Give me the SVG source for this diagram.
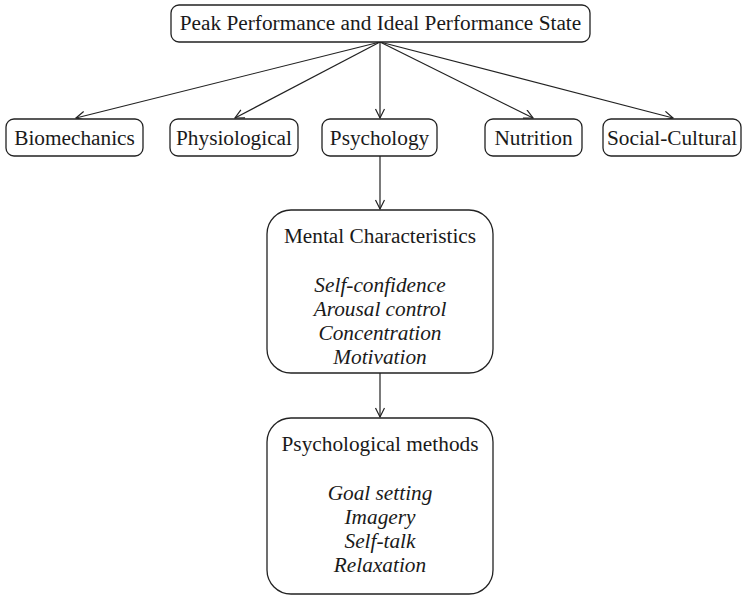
<svg xmlns="http://www.w3.org/2000/svg" width="747" height="596" viewBox="0 0 747 596">
<style>
.box{fill:#fff;stroke:#222;stroke-width:1.3}
.t{font-family:'Liberation Serif','Times New Roman',serif;font-size:21.3px;fill:#1a1a1a;text-anchor:middle}
.i{font-style:italic}
.c{stroke:#222;stroke-width:1.2;fill:none}
</style>
<defs>
<marker id="a" markerWidth="12" markerHeight="12" refX="10" refY="5" orient="auto" markerUnits="userSpaceOnUse">
<polyline points="1,0.5 10,5 1,9.5" fill="none" stroke="#222" stroke-width="1.2"/>
</marker>
</defs>
<rect width="747" height="596" fill="#fff"/>
<g id="connectors">
<line class="c" x1="380" y1="42" x2="76" y2="118" marker-end="url(#a)"/>
<line class="c" x1="380" y1="42" x2="235" y2="118" marker-end="url(#a)"/>
<line class="c" x1="380" y1="42" x2="380" y2="118" marker-end="url(#a)"/>
<line class="c" x1="380" y1="42" x2="533" y2="118" marker-end="url(#a)"/>
<line class="c" x1="380" y1="42" x2="673" y2="118" marker-end="url(#a)"/>
<line class="c" x1="380" y1="156" x2="380" y2="209" marker-end="url(#a)"/>
<line class="c" x1="380" y1="373" x2="380" y2="417" marker-end="url(#a)"/>
</g>
<g id="peak">
<rect class="box" x="171" y="5" width="419" height="37" rx="8"/>
<text class="t" x="380.500" y="30">Peak Performance and Ideal Performance State</text>
</g>
<g id="biomechanics">
<rect class="box" x="6" y="119" width="137" height="37" rx="8"/>
<text class="t" x="74.500" y="145">Biomechanics</text>
</g>
<g id="physiological">
<rect class="box" x="170" y="119" width="128" height="37" rx="8"/>
<text class="t" x="234" y="145">Physiological</text>
</g>
<g id="psychology">
<rect class="box" x="322" y="119" width="115" height="37" rx="8"/>
<text class="t" x="379.500" y="145">Psychology</text>
</g>
<g id="nutrition">
<rect class="box" x="485" y="119" width="97" height="37" rx="8"/>
<text class="t" x="533.500" y="145">Nutrition</text>
</g>
<g id="social">
<rect class="box" x="603" y="119" width="138" height="37" rx="8"/>
<text class="t" x="672" y="145">Social-Cultural</text>
</g>
<g id="mental">
<rect class="box" x="267" y="210" width="226" height="163" rx="24"/>
<text class="t" x="380" y="243">Mental Characteristics</text>
<text class="t i" x="380" y="292">Self-confidence</text>
<text class="t i" x="380" y="316">Arousal control</text>
<text class="t i" x="380" y="340">Concentration</text>
<text class="t i" x="380" y="364">Motivation</text>
</g>
<g id="methods">
<rect class="box" x="267" y="418" width="226" height="176" rx="24"/>
<text class="t" x="380" y="451">Psychological methods</text>
<text class="t i" x="380" y="500">Goal setting</text>
<text class="t i" x="380" y="524">Imagery</text>
<text class="t i" x="380" y="548">Self-talk</text>
<text class="t i" x="380" y="572">Relaxation</text>
</g>
</svg>
